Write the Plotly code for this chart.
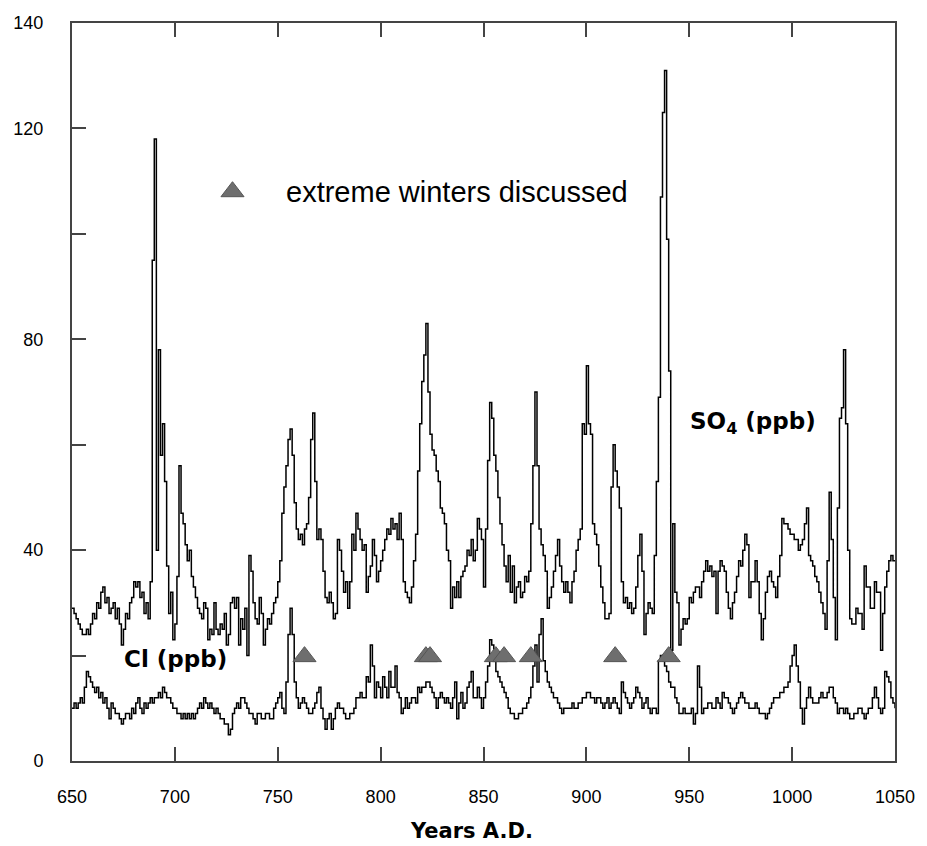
import plotly.graph_objects as go

years = list(range(650, 1051))

so4 = [
    29, 28, 27, 26, 25, 24, 24, 25, 24, 26,   # 650s
    28, 27, 30, 29, 32, 33, 30, 31, 28, 29,   # 660s
    30, 27, 29, 26, 22, 25, 28, 27, 30, 31,   # 670s
    34, 33, 34, 31, 32, 28, 30, 27, 34, 95,   # 680s
    118, 40, 78, 58, 64, 53, 37, 28, 32, 23,  # 690s
    26, 35, 56, 47, 45, 41, 38, 40, 35, 33,   # 700s
    31, 29, 28, 27, 30, 29, 23, 25, 24, 30,   # 710s
    25, 24, 26, 25, 28, 22, 24, 30, 31, 29,   # 720s
    31, 22, 27, 25, 29, 20, 39, 36, 30, 27,   # 730s
    26, 31, 28, 22, 25, 27, 26, 28, 30, 31,   # 740s
    34, 38, 47, 52, 56, 61, 63, 58, 49, 44,   # 750s
    42, 43, 41, 44, 45, 50, 61, 66, 53, 42,   # 760s
    44, 42, 36, 31, 30, 32, 30, 27, 28, 42,   # 770s
    40, 36, 32, 34, 29, 34, 43, 40, 47, 44,   # 780s
    42, 40, 41, 32, 35, 37, 42, 39, 34, 36,   # 790s
    38, 40, 42, 44, 43, 46, 44, 45, 42, 47,   # 800s
    42, 34, 32, 31, 30, 33, 38, 43, 55, 64,   # 810s
    72, 77, 83, 70, 62, 59, 58, 55, 53, 48,   # 820s
    47, 45, 40, 38, 29, 33, 31, 34, 31, 35,   # 830s
    36, 37, 40, 39, 42, 38, 40, 46, 44, 42,   # 840s
    33, 44, 57, 68, 65, 58, 55, 50, 45, 41,   # 850s
    37, 34, 39, 32, 37, 30, 33, 34, 31, 32,   # 860s
    35, 34, 36, 45, 56, 70, 56, 44, 41, 39,   # 870s
    36, 29, 31, 33, 36, 39, 42, 37, 34, 32,   # 880s
    34, 32, 30, 34, 36, 40, 42, 44, 64, 62,   # 890s
    75, 64, 62, 45, 43, 41, 37, 33, 30, 27,   # 900s
    27, 28, 52, 60, 55, 52, 48, 34, 30, 31,   # 910s
    29, 30, 28, 29, 33, 39, 43, 36, 24, 28,   # 920s
    30, 29, 28, 39, 53, 69, 107, 123, 131, 99,  # 930s
    74, 21, 45, 32, 30, 22, 25, 27, 26, 27,   # 940s
    31, 30, 32, 33, 33, 31, 34, 36, 38, 36,   # 950s
    37, 35, 36, 28, 36, 38, 37, 36, 32, 29,   # 960s
    27, 30, 32, 35, 38, 37, 40, 43, 41, 31,   # 970s
    34, 34, 38, 34, 28, 23, 27, 32, 35, 36,   # 980s
    34, 33, 31, 35, 39, 46, 45, 45, 44, 43,   # 990s
    43, 42, 42, 40, 41, 42, 45, 48, 39, 38,   # 1000s
    37, 35, 34, 32, 30, 28, 25, 38, 51, 42,   # 1010s
    31, 23, 48, 65, 67, 78, 64, 40, 27, 26,   # 1020s
    26, 29, 28, 28, 25, 37, 33, 33, 29, 29,   # 1030s
    34, 32, 32, 21, 28, 33, 36, 38, 39, 38,   # 1040s
    38,                                       # 1050
]

cl = [
    10, 11, 10, 11, 12, 11, 14, 17, 16, 15,   # 650s
    14, 13, 14, 12, 13, 11, 12, 10, 8, 11,    # 660s
    10, 9, 9, 8, 7, 8, 9, 9, 8, 10,           # 670s
    9, 11, 12, 10, 9, 11, 10, 11, 12, 11,     # 680s
    12, 12, 13, 12, 14, 13, 12, 12, 11, 10,   # 690s
    10, 9, 9, 8, 9, 8, 9, 8, 9, 8,            # 700s
    9, 10, 11, 10, 12, 11, 10, 11, 10, 9,     # 710s
    10, 9, 8, 8, 7, 7, 5, 6, 9, 10,           # 720s
    11, 10, 12, 12, 11, 10, 9, 9, 8, 7,       # 730s
    9, 9, 8, 8, 9, 9, 8, 8, 10, 11,           # 740s
    12, 13, 10, 9, 15, 24, 29, 24, 15, 12,    # 750s
    10, 11, 12, 11, 10, 9, 9, 10, 11, 13,     # 760s
    14, 10, 8, 6, 8, 9, 6, 8, 10, 11,         # 770s
    10, 10, 9, 8, 8, 9, 9, 10, 12, 12,        # 780s
    13, 12, 12, 16, 15, 22, 18, 12, 15, 14,   # 790s
    12, 16, 14, 12, 17, 14, 14, 18, 13, 12,   # 800s
    9, 10, 12, 10, 11, 12, 12, 11, 14, 13,    # 810s
    14, 14, 15, 15, 14, 13, 12, 10, 12, 13,   # 820s
    12, 11, 12, 11, 10, 12, 15, 8, 11, 13,    # 830s
    10, 11, 14, 15, 17, 12, 12, 14, 12, 10,   # 840s
    12, 15, 18, 23, 22, 20, 17, 16, 15, 14,   # 850s
    13, 12, 10, 9, 9, 8, 8, 9, 9, 10,         # 860s
    10, 11, 12, 14, 18, 22, 15, 24, 27, 19,   # 870s
    17, 15, 14, 13, 12, 12, 11, 10, 9, 10,    # 880s
    10, 10, 10, 11, 10, 10, 11, 11, 12, 12,   # 890s
    13, 13, 12, 12, 11, 12, 12, 11, 10, 11,   # 900s
    12, 10, 11, 12, 11, 10, 9, 15, 13, 12,    # 910s
    11, 10, 11, 12, 14, 13, 12, 10, 11, 12,   # 920s
    10, 9, 10, 10, 9, 19, 20, 19, 18, 17,     # 930s
    15, 14, 14, 12, 11, 9, 9, 10, 9, 9,       # 940s
    9, 10, 7, 9, 18, 14, 9, 10, 10, 11,       # 950s
    11, 10, 10, 12, 11, 10, 13, 12, 12, 11,   # 960s
    10, 9, 10, 11, 12, 13, 12, 11, 11, 10,    # 970s
    10, 10, 11, 10, 9, 9, 9, 8, 9, 10,        # 980s
    11, 12, 12, 12, 13, 13, 14, 14, 15, 18,   # 990s
    20, 22, 18, 15, 10, 7, 10, 12, 14, 12,    # 1000s
    11, 11, 11, 12, 13, 12, 12, 13, 14, 14,   # 1010s
    12, 11, 9, 10, 10, 9, 10, 9, 8, 8,        # 1020s
    9, 9, 10, 10, 9, 8, 9, 10, 10, 12,        # 1030s
    14, 12, 10, 9, 10, 17, 16, 15, 12, 11,    # 1040s
    10,                                       # 1050
]

winter_years = [763, 822, 824, 856, 860, 873, 914, 940]
winter_level = [19.8] * len(winter_years)

legend_x = [728]
legend_y = [108]

x_ticks = [650, 700, 750, 800, 850, 900, 950, 1000, 1050]
y_ticks = [0, 40, 80, 120, 140]
y_minor_ticks = [20, 60, 100]

assert len(so4) == len(years) and len(cl) == len(years)

TRI_FILL = "#6e6e6e"
TRI_LINE = "#555555"
AXIS_COL = "#444444"

fig = go.Figure()
fig.add_trace(go.Scatter(x=years, y=so4, mode="lines", line=dict(color="black", width=1.5, shape="hv"),
                         showlegend=False, hoverinfo="skip"))
fig.add_trace(go.Scatter(x=years, y=cl, mode="lines", line=dict(color="black", width=1.5, shape="hv"),
                         showlegend=False, hoverinfo="skip"))
fig.add_trace(go.Scatter(x=winter_years, y=winter_level, mode="markers",
                         marker=dict(symbol="triangle-up", size=20, color=TRI_FILL,
                                     line=dict(color=TRI_LINE, width=1)),
                         showlegend=False, hoverinfo="skip"))
fig.add_trace(go.Scatter(x=legend_x, y=legend_y, mode="markers",
                         marker=dict(symbol="triangle-up", size=20, color=TRI_FILL,
                                     line=dict(color=TRI_LINE, width=1)),
                         showlegend=False, hoverinfo="skip"))

fig.add_annotation(x=753, y=108, xref="x", yref="y", text="extreme winters discussed",
                   showarrow=False, xanchor="left", yanchor="middle",
                   font=dict(family="Liberation Sans, Arial, sans-serif", size=29, color="black"))
fig.add_annotation(x=949.5, y=64.2, xref="x", yref="y", text="SO<sub>4</sub> (ppb)",
                   showarrow=False, xanchor="left", yanchor="middle",
                   font=dict(family="DejaVu Sans", size=23, color="black", weight="bold"))
fig.add_annotation(x=674.5, y=19.3, xref="x", yref="y", text="Cl (ppb)",
                   showarrow=False, xanchor="left", yanchor="middle",
                   font=dict(family="DejaVu Sans", size=23, color="black", weight="bold"))
fig.add_annotation(x=0.486, y=-0.095, xref="paper", yref="paper", text="Years A.D.",
                   showarrow=False, xanchor="center", yanchor="middle",
                   font=dict(family="DejaVu Sans", size=21, color="black", weight="bold"))

axis_common = dict(showgrid=False, zeroline=False, showline=True, linecolor=AXIS_COL, linewidth=2,
                   ticks="inside", ticklen=14, tickwidth=1.5, tickcolor=AXIS_COL,
                   tickfont=dict(family="Liberation Sans, Arial, sans-serif", size=18, color="black"))

fig.update_xaxes(range=[650, 1050], tickmode="array", tickvals=x_ticks,
                 ticktext=[str(v) for v in x_ticks], mirror="ticks", ticklabelstandoff=18,
                 **axis_common)
fig.update_yaxes(range=[0, 140], tickmode="array", tickvals=y_ticks,
                 ticktext=[str(v) for v in y_ticks],
                 minor=dict(tickmode="array", tickvals=y_minor_ticks, ticks="inside", ticklen=14,
                            tickwidth=1.5, tickcolor=AXIS_COL, showgrid=False),
                 mirror=True, ticklabelstandoff=23, **axis_common)

fig.update_layout(width=927, height=846, margin=dict(l=72, r=24, t=23, b=85),
                  paper_bgcolor="white", plot_bgcolor="white", showlegend=False)

fig.write_html("out.html")
